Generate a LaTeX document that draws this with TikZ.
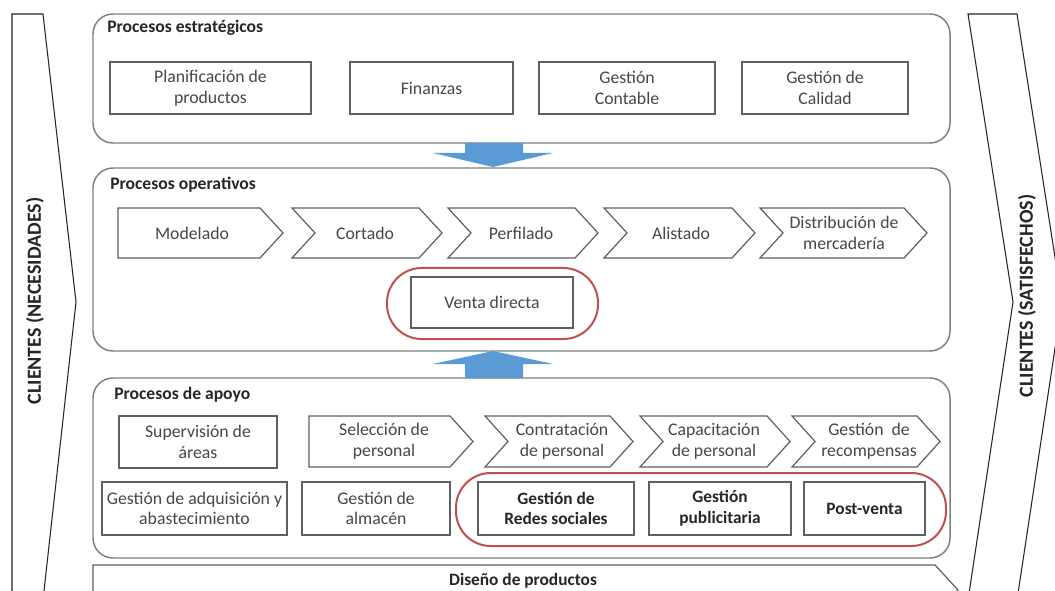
\documentclass[tikz,border=0pt]{standalone}
\usepackage{fontspec}
\setmainfont{Carlito}
\definecolor{txt}{HTML}{474747}
\definecolor{lin}{HTML}{5F5F5F}
\definecolor{cont}{HTML}{7F7F7F}
\definecolor{redc}{HTML}{C0504D}
\definecolor{bluec}{HTML}{5B9BD5}
\newcommand{\rbox}[7][lbl]{\draw[boxline] (#2,#3) rectangle (#4,#5);
  \node[#1] (#6) at ({(#2+#4)/2},{(#3+#5)/2}) {#7};}
% chevron with notch: xl, xt, yt, yb
\newcommand{\mychev}[4]{\draw[boxline] (#1,#3) -- ({#2-23},#3) -- (#2,{(#3+#4)/2}) -- ({#2-23},#4) -- (#1,#4) -- ({#1+23},{(#3+#4)/2}) -- cycle;}
% pentagon (flat left): xl, xt, yt, yb
\newcommand{\mypent}[4]{\draw[boxline] (#1,#3) -- ({#2-23},#3) -- (#2,{(#3+#4)/2}) -- ({#2-23},#4) -- (#1,#4) -- cycle;}
\begin{document}
\begin{tikzpicture}[x=0.75pt,y=-0.75pt,
  container/.style={draw=cont, line width=1.1pt, rounded corners=15pt},
  boxline/.style={draw=lin, line width=0.9pt},
  lbl/.style={text=txt, align=center, font=\fontsize{13.3}{15.5}\selectfont, inner sep=0pt},
  blbl/.style={text=black!85, align=center, font=\fontsize{13}{15.5}\selectfont\bfseries, inner sep=0pt},
  title/.style={anchor=west, text=black!85, font=\fontsize{13.2}{15}\selectfont\bfseries, inner sep=0pt},
  hl/.style={draw=redc, line width=1.5pt, rounded corners=26pt},
  barrow/.style={fill=bluec, draw=none},
  band/.style={draw=black!85, line width=0.8pt},
  bandtxt/.style={rotate=90, text=black!85, font=\fontsize{15}{17}\selectfont\bfseries, inner sep=0pt}
]
\useasboundingbox (0,0) rectangle (1055,591);
\fill[white] (0,0) rectangle (1055,591);
\begin{scope}
\clip (0,0) rectangle (1055,591);
% side bands
\draw[band] (12,600) -- (12,14) -- (43,14) -- (76,302) -- (43,600);
\node[bandtxt] (cneces) at (35,301) {CLIENTES (NECESIDADES)};
\draw[band] (968,600) -- (1013,302) -- (968,14) -- (1017,14) -- (1062,302) -- (1017,600);
\node[bandtxt] (csatis) at (1027,296) {CLIENTES (SATISFECHOS)};

% containers
\draw[container] (93,14) rectangle (950,143);
\node[title] (testr) at (107,28) {Procesos estratégicos};
\draw[container] (93,168) rectangle (950,351);
\node[title] (toper) at (110,185) {Procesos operativos};
\draw[container] (93,378) rectangle (950,558);
\node[title] (tapoy) at (114,395) {Procesos de apoyo};

% strategic boxes
\rbox{110}{62}{311}{114}{plan}{Planificación de\\productos}
\rbox{350}{62}{513}{114}{fin}{Finanzas}
\rbox{539}{62}{715}{114}{cont}{Gestión\\Contable}
\rbox{742}{62}{908}{114}{cal}{Gestión de\\Calidad}

% blue arrows
\fill[barrow] (465,143) -- (523,143) -- (523,153) -- (553,153) -- (493,167) -- (433,153) -- (465,153) -- cycle;
\fill[barrow] (465,378) -- (523,378) -- (523,364) -- (553,364) -- (493,351) -- (433,364) -- (465,364) -- cycle;

% operative chevrons
\mypent{118}{283}{208}{258}
\node[lbl] (mod) at (192,233) {Modelado};
\mychev{292}{442}{208}{258}
\node[lbl] (cor) at (365,233) {Cortado};
\mychev{448}{598}{208}{258}
\node[lbl] (per) at (521,233) {Perfilado};
\mychev{604}{755}{208}{258}
\node[lbl] (ali) at (681,233) {Alistado};
\mychev{760}{927}{208}{258}
\node[lbl] (dis) at (844,233) {Distribución de\\mercadería};

% venta directa
\rbox{411}{277}{573}{328}{venta}{Venta directa}
\draw[hl] (387,268) rectangle (598,339);

% apoyo row 1
\rbox{119}{416}{277}{468}{sup}{Supervisión de\\áreas}
\mypent{309}{473}{416}{467}
\node[lbl] (sel) at (384,441.5) {Selección de\\personal};
\mychev{485}{633}{416}{467}
\node[lbl] (contr) at (562,441.5) {Contratación\\de personal};
\mychev{640}{790}{416}{467}
\node[lbl] (cap) at (714,441.5) {Capacitación\\de personal};
\mychev{792}{940}{416}{467}
\node[lbl] (rec) at (869,441.5) {Gestión\ \ de\\recompensas};

% apoyo row 2
\rbox{102}{482}{287}{535}{adq}{Gestión de adquisición y\\abastecimiento}
\rbox{302}{482}{450}{535}{alm}{Gestión de\\almacén}
\rbox[blbl]{478}{482}{634}{535}{redes}{Gestión de\\Redes sociales}
\rbox[blbl]{649}{482}{791}{535}{publ}{Gestión\\publicitaria}
\rbox[blbl]{804}{482}{925}{535}{post}{Post-venta}
\draw[hl] (456,473) rectangle (946,546);

% diseño de productos
\mypent{93}{958}{565}{615}
\node[blbl] (dise) at (523,581) {Diseño de productos};
\end{scope}
\end{tikzpicture}
\end{document}
